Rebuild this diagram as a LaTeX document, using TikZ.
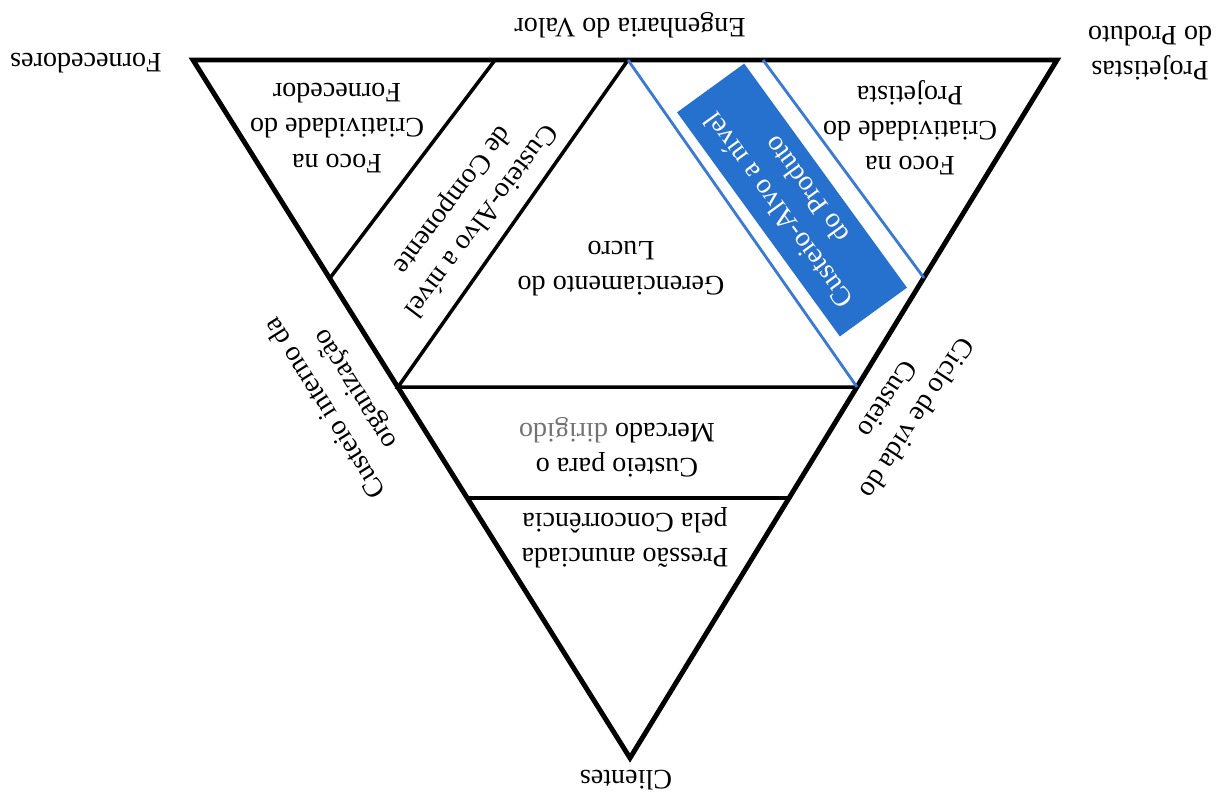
\documentclass[tikz,border=0pt]{standalone}
\usepackage{fontspec}
\setmainfont{Liberation Serif}
\definecolor{bandblue}{RGB}{38,112,206}
\definecolor{edgeblue}{RGB}{58,122,212}
\begin{document}
\begin{tikzpicture}[x=0.02cm,y=-0.02cm,
    thickline/.style={line width=2.8pt,line join=miter},
    thinline/.style={line width=2pt},
    blueline/.style={line width=1.6pt,draw=edgeblue},
    label/.style={font=\fontsize{16}{20}\selectfont,align=center,inner sep=0pt}]
\useasboundingbox (0,0) rectangle (1219,802);

% Corners of the outer triangle
\coordinate (forn) at (193,60);
\coordinate (proj) at (1057,60);
\coordinate (cli) at (630,758);

% Points on the edges
\coordinate (apex) at (628,60);
\coordinate (stripA) at (495,60);
\coordinate (stripB) at (330,278);
\coordinate (bandA) at (763,60);
\coordinate (bandB) at (924,278);
\coordinate (midL) at (398,387);
\coordinate (midR) at (857,387);
\coordinate (lowL) at (467,498);
\coordinate (lowR) at (789,498);

% Drawing outer triangle
\draw [thickline] (forn) -- (proj) -- (cli) -- cycle;

% Drawing inner lines
\draw [thinline] (stripA) -- (stripB);
\draw [thinline] (apex) -- (midL) -- (midR);
\draw [thinline] (lowL) -- (lowR);

% Drawing blue lines
\draw [blueline] (apex) -- (midR);
\draw [blueline] (bandA) -- (bandB);

% Blue band
\node [label,fill=bandblue,text=white,rotate=126,minimum width=5.54cm,minimum height=1.66cm] (produto) at (792,200) {Custeio-Alvo a nível\\do Produto};

% Labels at the corners
\node [label,rotate=180] (engval) at (630,25) {Engenharia do Valor};
\node [label,rotate=180] (fornec) at (86,63) {Fornecedores};
\node [label,rotate=180] (projet) at (1150,53) {Projetistas\\do Produto};
\node [label,rotate=180] (client) at (626,780) {Clientes};

% Labels inside the triangle
\node [label,rotate=180] (focoF) at (337,128) {Foco na\\Criatividade do\\Fornecedor};
\node [label,rotate=180] (focoP) at (910,128) {Foco na\\Criatividade do\\Projetista};
\node [label,rotate=180] (lucro) at (621,269) {Gerenciamento do\\Lucro};
\node [label,rotate=180] (mercado) at (617,447) {Custeio para o\\Mercado {\color{black!55}dirigido}};
\node [label,rotate=180] (pressao) at (625,538) {Pressão anunciada\\pela Concorrência};
\node [label,rotate=233] (compon) at (466,210) {Custeio-Alvo a nível\\de Componente};

% Labels along the sides
\node [label,rotate=122] (interno) at (341,398) {Custeio interno da\\organização};
\node [label,rotate=237] (ciclo) at (903,409) {Ciclo de vida do\\Custeio};
\end{tikzpicture}
\end{document}
